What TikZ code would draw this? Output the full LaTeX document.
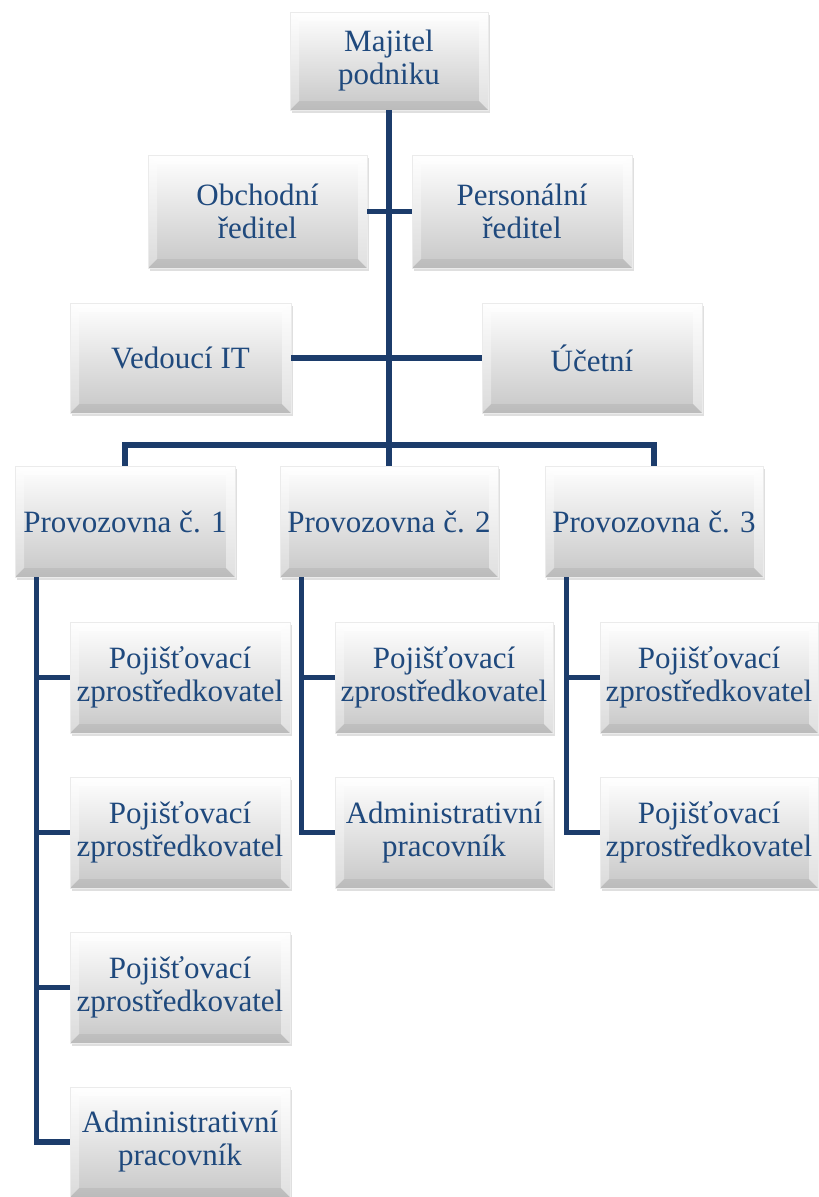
\documentclass[tikz,border=0pt]{standalone}
\usepackage{fontspec}
\setmainfont{Liberation Serif}
\usetikzlibrary{shadows,calc}
\definecolor{txtblue}{HTML}{1F497D}
\definecolor{linenavy}{HTML}{1C3C6B}
\begin{document}
\begin{tikzpicture}[x=1pt,y=-1pt,
  bx/.style={rectangle, top color=white, bottom color=black!22, draw=black!8, line width=0.6pt,
    text=txtblue, align=center, inner sep=0pt,
    font=\fontsize{31}{33}\selectfont,
    drop shadow={opacity=0.25, shadow xshift=1.5pt, shadow yshift=-2.5pt},
    path picture={
      \fill[white,opacity=0.55] (path picture bounding box.north west) -- (path picture bounding box.north east)
        -- ([shift={(-9pt,-9pt)}]path picture bounding box.north east) -- ([shift={(9pt,-9pt)}]path picture bounding box.north west) -- cycle;
      \fill[white,opacity=0.35] (path picture bounding box.north west) -- ([shift={(9pt,-9pt)}]path picture bounding box.north west)
        -- ([shift={(9pt,9pt)}]path picture bounding box.south west) -- (path picture bounding box.south west) -- cycle;
      \fill[white,opacity=0.45] (path picture bounding box.north east) -- ([shift={(-9pt,-9pt)}]path picture bounding box.north east)
        -- ([shift={(-9pt,9pt)}]path picture bounding box.south east) -- (path picture bounding box.south east) -- cycle;
      \fill[black,opacity=0.06] (path picture bounding box.south west) -- ([shift={(9pt,9pt)}]path picture bounding box.south west)
        -- ([shift={(-9pt,9pt)}]path picture bounding box.south east) -- (path picture bounding box.south east) -- cycle;
    }},
  conn/.style={draw=linenavy, line width=5.5pt}]
\useasboundingbox (0,0) rectangle (819,1197);
% connectors first
\coordinate (j) at (389,445);
% boxes
\node[bx, minimum width=198, minimum height=98] (maj) at (389,61) {Majitel\\podniku};
\node[bx, minimum width=219, minimum height=113] (obch) at (257.5,211.5) {Obchodní\\ředitel};
\node[bx, minimum width=220, minimum height=113] (pers) at (522,211.5) {Personální\\ředitel};
\node[bx, minimum width=221, minimum height=110] (ved) at (180.5,358) {Vedoucí IT};
\node[bx, minimum width=220, minimum height=110] (uc) at (592,358) {Účetní};
\node[bx, minimum width=220, minimum height=111] (pr1) at (125,521.5) {Provozovna č. 1};
\node[bx, minimum width=218, minimum height=111] (pr2) at (389,521.5) {Provozovna č. 2};
\node[bx, minimum width=218, minimum height=111] (pr3) at (654,521.5) {Provozovna č. 3};
\node[bx, minimum width=220, minimum height=111] (a1) at (180,677.5) {Pojišťovací\\zprostředkovatel};
\node[bx, minimum width=220, minimum height=111] (a2) at (180,832.5) {Pojišťovací\\zprostředkovatel};
\node[bx, minimum width=220, minimum height=111] (a3) at (180,987.5) {Pojišťovací\\zprostředkovatel};
\node[bx, minimum width=220, minimum height=110] (a4) at (180,1142) {Administrativní\\pracovník};
\node[bx, minimum width=218, minimum height=111] (b1) at (444,677.5) {Pojišťovací\\zprostředkovatel};
\node[bx, minimum width=218, minimum height=111] (b2) at (444,832.5) {Administrativní\\pracovník};
\node[bx, minimum width=218, minimum height=111] (c1) at (709,677.5) {Pojišťovací\\zprostředkovatel};
\node[bx, minimum width=218, minimum height=111] (c2) at (709,832.5) {Pojišťovací\\zprostředkovatel};
% connectors
\begin{scope}[on background layer/.style={}]
\draw[conn] (maj.south) -- (j);
\draw[conn] (obch.east) -- (pers.west);
\draw[conn] (ved.east) -- (uc.west);
\draw[conn] (pr1.north) |- (j) -| (pr3.north);
\draw[conn] (j) -- (pr2.north);
\coordinate (v1) at ([xshift=22pt]pr1.south west);
\coordinate (v2) at ([xshift=22pt]pr2.south west);
\coordinate (v3) at ([xshift=22pt]pr3.south west);
\draw[conn, line join=miter] (v1) |- (a4.west);
\draw[conn] (v1 |- a1.west) -- (a1.west);
\draw[conn] (v1 |- a2.west) -- (a2.west);
\draw[conn] (v1 |- a3.west) -- (a3.west);
\draw[conn] (v2) |- (b2.west);
\draw[conn] (v2 |- b1.west) -- (b1.west);
\draw[conn] (v3) |- (c2.west);
\draw[conn] (v3 |- c1.west) -- (c1.west);
\end{scope}
\end{tikzpicture}
\end{document}
